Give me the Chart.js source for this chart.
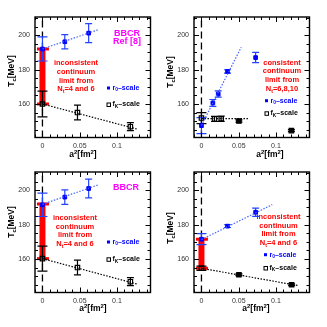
<!DOCTYPE html>
<html><head><meta charset="utf-8">
<script src="https://cdn.jsdelivr.net/npm/chart.js@4.4.1/dist/chart.umd.min.js"></script>
<style>
html,body{margin:0;padding:0;background:#fff;}
body{width:327px;height:327px;position:relative;overflow:hidden;}
canvas{position:absolute;}
</style></head><body>
<canvas id="c1" width="163" height="163" style="left:0px;top:0px"></canvas>
<canvas id="c2" width="163" height="163" style="left:159px;top:0px"></canvas>
<canvas id="c3" width="163" height="163" style="left:0px;top:155px"></canvas>
<canvas id="c4" width="163" height="163" style="left:159px;top:155px"></canvas>
<script>
// ---------- tick labels ----------
const xTickValues = [0, 0.05, 0.1];
const xTickLabels = ['0', '0.05', '0.1'];
const yTickValues = [160, 180, 200];

// ---------- Panel 1 (BBCR, Ref [8]) ----------
const p1R0X = [0, 0.030, 0.062];
const p1R0Y = [192, 196.2, 201.2];
const p1R0Err = [7, 4.2, 5.5];
const p1FkX = [0, 0.047, 0.118];
const p1FkY = [160, 155, 146.8];
const p1FkErr = [7.5, 4.3, 2.3];
const p1R0FitX = [0, 0.074];
const p1R0FitY = [192, 203.1];
const p1FkFitX = [0, 0.127];
const p1FkFitY = [160, 145.4];
const p1Band = [160, 192];
const p1Note = ['inconsistent', 'continuum', 'limit from', 'N_{t}=4 and 6'];
const p1Label = ['BBCR', 'Ref [8]'];

// ---------- Panel 2 ----------
const p2R0X = [0, 0.0153, 0.0225, 0.035, 0.0727];
const p2R0Y = [147.4, 160.6, 165.8, 178.9, 187];
const p2R0Err = [4.7, 2, 1.8, 1, 3];
const p2FkX = [0, 0.0175, 0.0265, 0.0503, 0.1207];
const p2FkY = [151.8, 151.3, 151.4, 150.1, 144.5];
const p2FkErr = [3.2, 1.5, 1.5, 0.6, 0.6];
const p2R0FitX = [0, 0.0534];
const p2R0FitY = [147.5, 193];
const p2FkFitX = [0, 0.0638];
const p2FkFitY = [151.5, 151.5];
const p2Note = ['consistent', 'continuum', 'limit from', 'N_{t}=6,8,10'];

// ---------- Panel 3 (BBCR) ----------
const p3R0X = [0, 0.030, 0.062];
const p3R0Y = [191.5, 196, 201];
const p3R0Err = [6.8, 4.2, 5.5];
const p3FkX = [0, 0.047, 0.118];
const p3FkY = [160.2, 155, 146.8];
const p3FkErr = [7.3, 4.3, 2.3];
const p3R0FitX = [0, 0.074];
const p3R0FitY = [191.8, 203];
const p3FkFitX = [0, 0.127];
const p3FkFitY = [160.2, 145.4];
const p3Band = [160.2, 192];
const p3Note = ['inconsistent', 'continuum', 'limit from', 'N_{t}=4 and 6'];
const p3Label = ['BBCR'];

// ---------- Panel 4 ----------
const p4R0X = [0, 0.035, 0.0727];
const p4R0Y = [171.5, 179.1, 187.2];
const p4R0Err = [3.2, 0.8, 2.4];
const p4FkX = [0, 0.0503, 0.121];
const p4FkY = [154.6, 150.8, 145];
const p4FkErr = [1.2, 0.5, 0.5];
const p4R0FitX = [0, 0.095];
const p4R0FitY = [171.3, 191.6];
const p4FkFitX = [0, 0.13];
const p4FkFitY = [154.6, 144.5];
const p4Band = [154.6, 171.5];
const p4Note = ['inconsistent', 'continuum', 'limit from', 'N_{t}=4 and 6'];

const legendLabels = ['r_{0}–scale', 'f_{K}–scale'];
const yTitle = 'T_{c}[MeV]';
const xTitle = 'a^{2}[fm^{2}]';

// ---------- helpers ----------
const FAM = "'Liberation Sans', Arial, Helvetica, sans-serif";
function parseRich(s){
  const segs=[]; const re=/([_^])\{([^}]*)\}/g; let last=0, m;
  while((m=re.exec(s))){ if(m.index>last) segs.push({t:s.slice(last,m.index),k:''}); segs.push({t:m[2],k:m[1]}); last=re.lastIndex; }
  if(last<s.length) segs.push({t:s.slice(last),k:''});
  return segs;
}
function drawRich(ctx, str, x, y, o){
  const segs=parseRich(str);
  const weight=o.weight||'bold';
  const sz=k=>k?o.size*0.7:o.size;
  const font=k=>`${weight} ${sz(k)}px ${FAM}`;
  let w=0;
  segs.forEach(s=>{ctx.font=font(s.k); s.w=ctx.measureText(s.t).width; w+=s.w;});
  const sx=o.sx||1;
  ctx.save(); ctx.translate(x,y); if(o.rot) ctx.rotate(o.rot); ctx.scale(sx,1);
  let cx=o.align==='left'?0:(o.align==='right'?-w:-w/2);
  ctx.fillStyle=o.color||'#000'; ctx.textBaseline='middle'; ctx.textAlign='left';
  segs.forEach(s=>{ctx.font=font(s.k); const dy=s.k==='_'?o.size*0.3:(s.k==='^'?-o.size*0.35:0); ctx.fillText(s.t,cx,dy); cx+=s.w;});
  ctx.restore();
}
const pts=(X,Y)=>X.map((x,i)=>({x:x,y:Y[i]}));

const decoPlugin = {
  id:'deco',
  beforeDatasetsDraw(chart, args, o){
    const ctx=chart.ctx, xs=chart.scales.x, ys=chart.scales.y, ca=chart.chartArea;
    ctx.save();
    const x0=xs.getPixelForValue(0);
    ctx.strokeStyle='#000'; ctx.lineWidth=1.3; ctx.setLineDash([7,4]);
    ctx.beginPath(); ctx.moveTo(x0,ca.bottom); ctx.lineTo(x0,ca.top); ctx.stroke();
    ctx.setLineDash([]);
    if(o.band){
      const yl=ys.getPixelForValue(o.band[0]), yh=ys.getPixelForValue(o.band[1]);
      ctx.fillStyle='#ff0000';
      ctx.fillRect(x0-3,yh,6,yl-yh);
      ctx.fillRect(x0-5.5,yh-1.5,12,3);
      ctx.fillRect(x0-5.5,yl-1.5,12,3);
    }
    chart.data.datasets.forEach(ds=>{
      if(!ds.errorBars) return;
      ctx.strokeStyle=ds.errColor; ctx.lineWidth=1.2;
      ds.data.forEach((p,j)=>{
        const e=ds.errorBars[j]; const px=xs.getPixelForValue(p.x);
        const yt=ys.getPixelForValue(p.y+e), yb=ys.getPixelForValue(p.y-e);
        const cw=j===0?5:3.5;
        ctx.beginPath();
        ctx.moveTo(px,yt); ctx.lineTo(px,yb);
        ctx.moveTo(px-cw,yt); ctx.lineTo(px+cw,yt);
        ctx.moveTo(px-cw,yb); ctx.lineTo(px+cw,yb);
        ctx.stroke();
      });
    });
    ctx.restore();
  },
  afterDraw(chart, args, o){
    const ctx=chart.ctx, xs=chart.scales.x, ys=chart.scales.y, ca=chart.chartArea;
    ctx.save();
    ctx.strokeStyle='#000'; ctx.lineWidth=1.4;
    ctx.strokeRect(ca.left,ca.top,ca.right-ca.left,ca.bottom-ca.top);
    ctx.lineWidth=1;
    ctx.beginPath();
    ys.ticks.forEach(t=>{
      const y=Math.round(ys.getPixelForValue(t.value))+0.5;
      const L=(yTickValues.includes(t.value))?5:3;
      ctx.moveTo(ca.left,y); ctx.lineTo(ca.left+L,y);
      ctx.moveTo(ca.right,y); ctx.lineTo(ca.right-L,y);
    });
    xs.ticks.forEach(t=>{
      const x=Math.round(xs.getPixelForValue(t.value))+0.5;
      const L=xTickValues.some(v=>Math.abs(v-t.value)<1e-9)?5:3;
      ctx.moveTo(x,ca.bottom); ctx.lineTo(x,ca.bottom-L);
      ctx.moveTo(x,ca.top); ctx.lineTo(x,ca.top+L);
    });
    ctx.stroke();
    drawRich(ctx, yTitle, 11.5, o.yTitleY, {size:8.5, color:'#000', rot:-Math.PI/2});
    drawRich(ctx, xTitle, o.xTitleX, o.xTitleY, {size:8.5, color:'#000'});
    o.note.forEach((s,i)=>drawRich(ctx, s, o.noteX, o.noteY+i*8.7, {size:7.5, color:'#ff0000'}));
    if(o.label) o.label.forEach((s,i)=>drawRich(ctx, s, o.labelX, o.labelY+i*8.3, {size:9, color:'#ff00ff'}));
    const mx=o.legX;
    ctx.fillStyle='#0000ff'; ctx.fillRect(mx-1.5,o.legY[0]-1.5,3,3);
    drawRich(ctx, legendLabels[0], mx+4, o.legY[0], {size:7, color:'#0000ff', align:'left'});
    ctx.strokeStyle='#000'; ctx.lineWidth=1; ctx.strokeRect(mx-1.5,o.legY[1]-1.5,3.5,3.5);
    drawRich(ctx, legendLabels[1], mx+4, o.legY[1], {size:7, color:'#000', align:'left'});
    ctx.restore();
  }
};

function makeChart(id, d){
  return new Chart(document.getElementById(id), {
    type:'scatter',
    data:{datasets:[
      {data:pts(d.r0FitX,d.r0FitY), showLine:true, borderColor:'#4466ff', borderWidth:1.2, borderDash:[1.5,1.5], pointRadius:0},
      {data:pts(d.fkFitX,d.fkFitY), showLine:true, borderColor:'#000', borderWidth:1.2, borderDash:[1.5,1.5], pointRadius:0},
      {data:pts(d.r0X,d.r0Y), pointStyle:'rect', pointRadius:2.6, backgroundColor:'#0000ff', borderColor:'#0000ff', borderWidth:1, errorBars:d.r0Err, errColor:'#2244ff'},
      {data:pts(d.fkX,d.fkY), pointStyle:'rect', pointRadius:3.1, backgroundColor:d.fkFill, borderColor:'#000', borderWidth:1.2, errorBars:d.fkErr, errColor:'#000'}
    ]},
    options:{
      responsive:false, animation:false, devicePixelRatio:1,
      layout:{padding:{top:17,right:12.5,left:0,bottom:0}},
      plugins:{legend:{display:false}, tooltip:{enabled:false}, deco:d.deco},
      scales:{
        x:{type:'linear', min:-0.01, max:0.145,
           grid:{display:false, drawTicks:false}, border:{display:false},
           ticks:{stepSize:0.01, autoSkip:false, maxRotation:0, includeBounds:false, padding:4, color:'#333', font:{family:FAM, size:7},
             callback:v=>{const i=xTickValues.findIndex(t=>Math.abs(t-v)<1e-9); return i>=0?xTickLabels[i]:'';}},
           afterFit:s=>{s.height=25.5;}},
        y:{type:'linear', min:140.5, max:210.6,
           grid:{display:false, drawTicks:false}, border:{display:false},
           ticks:{stepSize:5, autoSkip:false, includeBounds:false, padding:5, color:'#333', font:{family:FAM, size:7},
             callback:v=>yTickValues.some(t=>Math.abs(t-v)<1e-6)?String(Math.round(v)):''},
           afterFit:s=>{s.width=35;}}
      }
    },
    plugins:[decoPlugin]
  });
}

const T='rgba(0,0,0,0)';
makeChart('c1',{r0X:p1R0X,r0Y:p1R0Y,r0Err:p1R0Err,fkX:p1FkX,fkY:p1FkY,fkErr:p1FkErr,
  r0FitX:p1R0FitX,r0FitY:p1R0FitY,fkFitX:p1FkFitX,fkFitY:p1FkFitY,fkFill:[T,T,T],
  deco:{band:p1Band,note:p1Note,noteX:76,noteY:63.3,label:p1Label,labelX:127,labelY:33.5,legX:108.5,legY:[88,104.5],yTitleY:71,xTitleX:83,xTitleY:155}});
makeChart('c2',{r0X:p2R0X,r0Y:p2R0Y,r0Err:p2R0Err,fkX:p2FkX,fkY:p2FkY,fkErr:p2FkErr,
  r0FitX:p2R0FitX,r0FitY:p2R0FitY,fkFitX:p2FkFitX,fkFitY:p2FkFitY,fkFill:[T,T,T,'#000','#000'],
  deco:{band:null,note:p2Note,noteX:123,noteY:62.7,legX:107.5,legY:[100.7,113.3],yTitleY:72,xTitleX:111,xTitleY:155}});
makeChart('c3',{r0X:p3R0X,r0Y:p3R0Y,r0Err:p3R0Err,fkX:p3FkX,fkY:p3FkY,fkErr:p3FkErr,
  r0FitX:p3R0FitX,r0FitY:p3R0FitY,fkFitX:p3FkFitX,fkFitY:p3FkFitY,fkFill:[T,T,T],
  deco:{band:p3Band,note:p3Note,noteX:75,noteY:63,label:p3Label,labelX:126,labelY:32.5,legX:108.5,legY:[87,104.3],yTitleY:67,xTitleX:93,xTitleY:154}});
makeChart('c4',{r0X:p4R0X,r0Y:p4R0Y,r0Err:p4R0Err,fkX:p4FkX,fkY:p4FkY,fkErr:p4FkErr,
  r0FitX:p4R0FitX,r0FitY:p4R0FitY,fkFitX:p4FkFitX,fkFitY:p4FkFitY,fkFill:[T,'#000','#000'],
  deco:{band:p4Band,note:p4Note,noteX:119.5,noteY:62,legX:106.5,legY:[99.7,113],yTitleY:73,xTitleX:97,xTitleY:154}});
</script>
</body></html>
